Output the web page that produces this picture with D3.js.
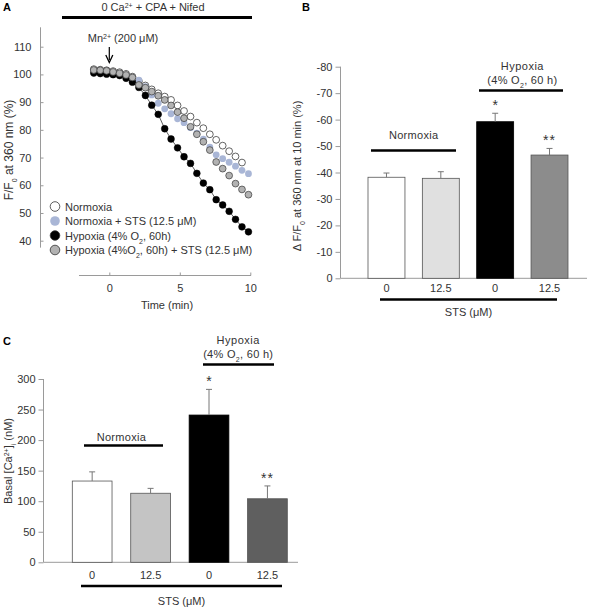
<!DOCTYPE html>
<html><head><meta charset="utf-8">
<script src="https://cdn.jsdelivr.net/npm/d3@7"></script>
<style>
body{margin:0;background:#fff;}
text{font-family:"Liberation Sans",Arial,sans-serif;fill:#333;}
</style></head>
<body><svg id="c" width="592" height="607"></svg>
<script>
// ---------- Panel A data ----------
const timesA = [-1.1,-0.64,-0.19,0.27,0.73,1.19,1.64,2.1,2.56,3.01,3.47,3.93,4.38,4.84,5.3,5.76,6.21,6.67,7.13,7.58,8.04,8.5,8.95,9.41,9.87];
const normoxia = [101.9,101.7,101.5,101.2,100.8,100.2,99.2,97.5,96.0,94.6,93.2,92.0,90.8,88.8,86.8,84.8,82.6,80.6,78.4,76.4,74.3,72.3,70.4,68.2,null];
const normoxiaSTS = [101.4,101.3,101.1,100.7,100.2,99.6,98.8,97.9,95.6,92.6,89.6,87.6,85.8,84.0,82.6,80.8,78.8,76.6,73.8,71.0,69.6,68.3,66.9,65.4,64.2];
const hypoxia = [100.5,100.3,100.1,99.9,99.6,98.6,97.2,95.3,92.4,88.9,85.6,80.4,76.7,73.5,70.3,67.9,64.3,60.8,58.4,54.8,52.9,50.6,47.7,45.0,43.2];
const hypoxiaSTS = [101.6,101.5,101.3,100.9,100.4,99.8,98.9,96.2,95.2,93.8,92.3,90.8,88.8,86.4,84.2,81.1,78.4,75.7,72.7,68.4,66.0,63.5,60.6,58.5,56.6];
const seriesNamesA = ["Normoxia","Normoxia + STS (12.5 μM)","Hypoxia (4% O₂, 60h)","Hypoxia (4%O₂, 60h) + STS (12.5 μM)"];
const xTicksA = [0,5,10];
const yTicksA = [40,50,60,70,80,90,100,110];

// ---------- Panel B data ----------
const stsLabels = ["0","12.5","0","12.5"];
const deltaF = [-38.2,-37.8,-59.2,-46.6];
const deltaFErr = [-1.6,-2.5,-3.2,-2.5];
const yTicksB = [0,-10,-20,-30,-40,-50,-60,-70,-80];

// ---------- Panel C data ----------
const basalCa = [133,113,241,104];
const basalCaErr = [15,8,42,21];
const yTicksC = [0,50,100,150,200,250,300];

const svg = d3.select("#c");
const AX = "#9a9a9a";

// rich text helper: segments [text, mode] mode: undefined|'sup'|'sub'
function rich(g, x, y, segs, opts={}) {
  const t = g.append("text").attr("x", x).attr("y", y)
    .attr("font-size", opts.size || 11)
    .attr("text-anchor", opts.anchor || "middle");
  if (opts.transform) t.attr("transform", opts.transform);
  if (opts.ls) t.attr("letter-spacing", opts.ls);
  segs.forEach(s => {
    const ts = t.append("tspan").text(s[0]);
    if (s[1] === "sup") ts.attr("baseline-shift", "super").attr("font-size", 7);
    if (s[1] === "sub") ts.attr("baseline-shift", "sub").attr("font-size", 7);
  });
  return t;
}

// ================= Panel A =================
const gA = svg.append("g");
const xA = d3.scaleLinear().domain([0,10]).range([109.3,250.3]);
const yA = d3.scaleLinear().domain([40,110]).range([240.7,46.7]);

gA.append("text").attr("x",3).attr("y",11).attr("font-size",11).attr("font-weight","bold").style("fill","#000").text("A");
rich(gA, 153, 11, [["0 Ca"],["2+","sup"],[" + CPA + Nifed"]]);
gA.append("line").attr("x1",62).attr("x2",252).attr("y1",17.5).attr("y2",17.5).attr("stroke","#000").attr("stroke-width",3);

// axes
gA.append("line").attr("x1",40.5).attr("x2",40.5).attr("y1",yA(117)).attr("y2",yA(37.5)).attr("stroke",AX);
const yAxA = d3.axisRight(yA).tickValues(yTicksA).tickSize(3).tickFormat(d3.format("d"));
const gyA = gA.append("g").attr("transform","translate(40.5,0)").call(yAxA);
gyA.select(".domain").remove();
gyA.selectAll(".tick line").attr("stroke",AX);
gyA.selectAll(".tick text").attr("x",-9).attr("text-anchor","end").attr("font-size",11).attr("font-family",null).style("fill","#333");

gA.append("line").attr("x1",xA(-2.15)).attr("x2",xA(10.05)).attr("y1",275.5).attr("y2",275.5).attr("stroke",AX);
const xAxA = d3.axisTop(xA).tickValues(xTicksA).tickSize(3).tickFormat(d3.format("d"));
const gxA = gA.append("g").attr("transform","translate(0,275.5)").call(xAxA);
gxA.select(".domain").remove();
gxA.selectAll(".tick line").attr("stroke",AX);
gxA.selectAll(".tick text").attr("y",16).attr("dy",null).attr("font-size",11).attr("font-family",null).style("fill","#333");

rich(gA, 167, 309, [["Time (min)"]]);
rich(gA, 0, 0, [["F/F"],["0","sub"],[" at 360 nm (%)"]], {size:12, transform:"translate(13,150) rotate(-90)"});

// Mn arrow
rich(gA, 123, 42, [["Mn"],["2+","sup"],[" (200 μM)"]]);
gA.append("line").attr("x1",xA(0)).attr("x2",xA(0)).attr("y1",47).attr("y2",60).attr("stroke","#000").attr("stroke-width",1.2);
gA.append("path").attr("d", d3.line()([[xA(0)-3.5,55],[xA(0),62.5],[xA(0)+3.5,55]])).attr("fill","none").attr("stroke","#000").attr("stroke-width",1.3);

const styles = [
  {fill:"#fff", stroke:"#222", sw:0.7},
  {fill:"#a9b6d6", stroke:"none", sw:0},
  {fill:"#000", stroke:"#000", sw:0.5},
  {fill:"#b2b2b2", stroke:"#3a3a3a", sw:0.7}
];
const allSeries = [normoxia, normoxiaSTS, hypoxia, hypoxiaSTS];
const line = d3.line().defined(d => d[1] != null).x(d => xA(d[0])).y(d => yA(d[1]));
allSeries.forEach((s, i) => {
  const pts = timesA.map((t, k) => [t, s[k]]).filter(d => d[1] != null);
  if (i === 2) gA.append("path").attr("d", line(pts)).attr("fill","none").attr("stroke","#333").attr("stroke-width",0.8);
  gA.append("g").selectAll("circle").data(pts).join("circle")
    .attr("cx", d => xA(d[0])).attr("cy", d => yA(d[1])).attr("r", 3.4)
    .attr("fill", styles[i].fill).attr("stroke", styles[i].stroke).attr("stroke-width", styles[i].sw);
});

// legend
const legY = d3.scalePoint().domain(d3.range(4)).range([206.5,250]);
seriesNamesA.forEach((n, i) => {
  gA.append("circle").attr("cx",55).attr("cy",legY(i)).attr("r",4.8)
    .attr("fill",styles[i].fill).attr("stroke",styles[i].stroke==="none"?"none":"#333").attr("stroke-width",0.8);
});
rich(gA, 65, legY(0)+4, [["Normoxia"]], {anchor:"start"});
rich(gA, 65, legY(1)+4, [["Normoxia + STS (12.5 μM)"]], {anchor:"start"});
rich(gA, 65, legY(2)+4, [["Hypoxia (4% O"],["2","sub"],[", 60h)"]], {anchor:"start"});
rich(gA, 65, legY(3)+4, [["Hypoxia (4%O"],["2","sub"],[", 60h) + STS (12.5 μM)"]], {anchor:"start"});

// ================= Bar panel builder =================
function barPanel(cfg) {
  const g = svg.append("g");
  const x = d3.scaleBand().domain(d3.range(4)).range(cfg.xr).paddingInner(0.32).paddingOuter(0);
  const y = d3.scaleLinear().domain(cfg.yd).range(cfg.yr);
  // axis lines
  g.append("line").attr("x1",cfg.ax).attr("x2",cfg.ax).attr("y1",y(cfg.yd[1])).attr("y2",y(cfg.yd[0])).attr("stroke",AX);
  g.append("line").attr("x1",cfg.ax).attr("x2",cfg.axEnd).attr("y1",y(0)).attr("y2",y(0)).attr("stroke",AX);
  const yAx = d3.axisLeft(y).tickValues(cfg.ticks).tickSize(5).tickFormat(cfg.fmt);
  const gy = g.append("g").attr("transform",`translate(${cfg.ax},0)`).call(yAx);
  gy.select(".domain").remove();
  gy.selectAll(".tick line").attr("stroke",AX);
  gy.selectAll(".tick text").attr("x",-8).attr("font-size",11).attr("font-family",null).style("fill","#333");
  // bars
  g.selectAll("rect.bar").data(cfg.vals).join("rect").attr("class","bar")
    .attr("x",(d,i)=>x(i)).attr("width",x.bandwidth())
    .attr("y",d=>Math.min(y(d),y(0))).attr("height",d=>Math.abs(y(0)-y(d)))
    .attr("fill",(d,i)=>cfg.colors[i]).attr("stroke",(d,i)=>i===2?"#000":"#555").attr("stroke-width",0.8);
  // error bars
  cfg.vals.forEach((v,i)=>{
    const cx = x(i)+x.bandwidth()/2;
    g.append("line").attr("x1",cx).attr("x2",cx).attr("y1",y(v)).attr("y2",y(v+cfg.err[i])).attr("stroke","#777").attr("stroke-width",1);
    g.append("line").attr("x1",cx-3).attr("x2",cx+3).attr("y1",y(v+cfg.err[i])).attr("y2",y(v+cfg.err[i])).attr("stroke","#777").attr("stroke-width",1);
  });
  // star labels
  const cx2 = x(2)+x.bandwidth()/2, cx3 = x(3)+x.bandwidth()/2;
  g.append("text").attr("x",cx2).attr("y",y(cfg.vals[2]+cfg.err[2])+cfg.starOff).attr("text-anchor","middle").attr("font-size",14).text("*");
  g.append("text").attr("x",cx3).attr("y",y(cfg.vals[3]+cfg.err[3])+cfg.starOff).attr("text-anchor","middle").attr("font-size",14).attr("letter-spacing",1).text("**");
  // category labels
  stsLabels.forEach((l,i)=>{
    g.append("text").attr("x",x(i)+x.bandwidth()/2).attr("y",y(0)+cfg.lblOff).attr("text-anchor","middle").attr("font-size",11).text(l);
  });
  g.append("line").attr("x1",cfg.stsLine[0]).attr("x2",cfg.stsLine[1]).attr("y1",cfg.stsLine[2]).attr("y2",cfg.stsLine[2]).attr("stroke","#000").attr("stroke-width",2.5);
  rich(g, (cfg.stsLine[0]+cfg.stsLine[1])/2, cfg.stsY, [["STS (μM)"]]);
  // group labels
  const nx = (x(0)+x(1)+x.bandwidth())/2;
  rich(g, nx, cfg.normY, [["Normoxia"]], {ls:0.3});
  g.append("line").attr("x1",cfg.normLine[0]).attr("x2",cfg.normLine[1]).attr("y1",cfg.normLine[2]).attr("y2",cfg.normLine[2]).attr("stroke","#000").attr("stroke-width",2.5);
  const hx = (x(2)+x(3)+x.bandwidth())/2;
  rich(g, hx, cfg.hypY, [["Hypoxia"]], {ls:0.5});
  rich(g, hx, cfg.hypY+14, [["(4% O"],["2","sub"],[", 60 h)"]], {ls:0.3});
  g.append("line").attr("x1",cfg.hypLine[0]).attr("x2",cfg.hypLine[1]).attr("y1",cfg.hypLine[2]).attr("y2",cfg.hypLine[2]).attr("stroke","#000").attr("stroke-width",2.5);
  return g;
}

// ================= Panel B =================
const gB = barPanel({
  xr:[368,568], yd:[0,-80], yr:[278.3,66.7], ax:340.5, axEnd:587, ticks:yTicksB,
  fmt: d => d===0 ? "0" : "-" + Math.abs(d),
  vals: deltaF, err: deltaFErr, colors:["#fff","#e0e0e0","#000","#8c8c8c"],
  starOff:-3, lblOff:14, stsLine:[380,557,299.5], stsY:316,
  normY:139, normLine:[371,456,150.5], hypY:70, hypLine:[479,563,90.5]
});
gB.append("text").attr("x",302).attr("y",11).attr("font-size",11).attr("font-weight","bold").style("fill","#000").text("B");
rich(gB, 0, 0, [["Δ F/F"],["0","sub"],[" at 360 nm at 10 min (%)"]], {size:11, transform:"translate(301,176) rotate(-90)"});

// ================= Panel C =================
const gC = barPanel({
  xr:[72.3,287.3], yd:[0,300], yr:[562.3,379], ax:43.5, axEnd:298, ticks:yTicksC,
  fmt: d3.format("d"),
  vals: basalCa, err: basalCaErr, colors:["#fff","#c4c4c4","#000","#5f5f5f"],
  starOff:-3, lblOff:17, stsLine:[81,282,586], stsY:605,
  normY:441, normLine:[84,163,445.5], hypY:344, hypLine:[203,274,364.5]
});
gC.append("text").attr("x",3).attr("y",345).attr("font-size",11).attr("font-weight","bold").style("fill","#000").text("C");
rich(gC, 0, 0, [["Basal [Ca"],["2+","sup"],["]"],["i","sub"],[" (nM)"]], {size:11, transform:"translate(12,461) rotate(-90)"});
</script>
</body></html>
